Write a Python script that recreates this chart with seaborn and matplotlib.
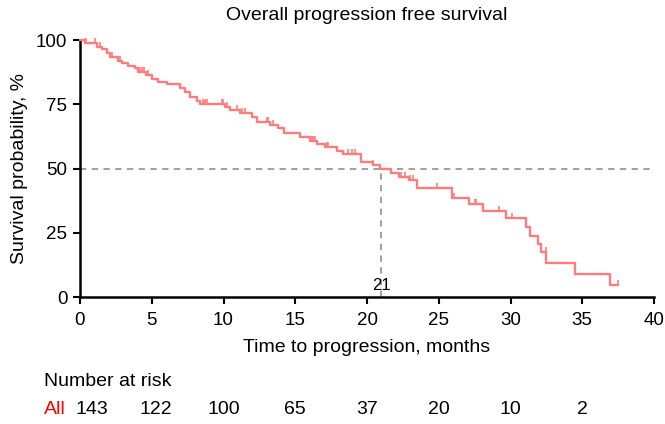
import numpy as np
import matplotlib
matplotlib.use('Agg')
import matplotlib.pyplot as plt
import matplotlib.transforms as mtransforms
import seaborn as sns

# step changes of the KM curve (months, survival %)
event_times = [0.35, 1.16, 1.5, 1.9, 2.1, 2.67, 2.9, 3.37, 3.83, 4.06, 4.6, 5.0, 5.46, 6.04,
               6.97, 7.3, 7.67, 8.13, 8.36, 10.1, 10.45, 11.15, 11.96, 12.3, 13.24, 13.8, 14.2,
               15.3, 16.0, 16.5, 17.1, 17.9, 18.3, 19.6, 20.4, 20.9, 21.7, 22.2, 22.9, 23.5,
               25.9, 27.1, 28.1, 29.7, 31.06, 31.36, 31.9, 32.1, 32.5, 34.5, 36.9]
survival = [98.7, 97.4, 96.5, 94.8, 93.3, 92.0, 90.9, 89.9, 89.0, 87.4, 86.4, 84.7, 83.5, 82.8,
            81.2, 79.9, 77.9, 76.3, 75.1, 74.0, 72.8, 71.5, 69.9, 68.2, 66.9, 65.6, 63.7,
            62.1, 60.8, 59.5, 58.2, 56.9, 55.6, 52.7, 51.4, 49.7, 48.1, 46.8, 45.5, 42.6,
            38.4, 36.2, 33.5, 30.6, 27.1, 23.7, 20.5, 17.6, 13.1, 8.8, 4.5]
last_followup = 37.5
censor_times = [0.45, 1.05, 1.4, 2.2, 2.8, 4.2, 4.3, 4.45, 4.76, 8.6, 8.71, 8.87, 9.87, 9.99,
                10.22, 10.92, 11.3, 11.5, 13.0, 13.1, 13.45, 16.15, 16.26, 16.38, 17.19, 17.3,
                18.7, 18.93, 19.16, 20.44, 22.4, 22.65, 23.0, 23.2, 24.86, 26.06, 27.5, 27.6,
                29.2, 30.1, 32.47, 37.5]
median_time = 21
risk_times = [0, 5, 10, 15, 20, 25, 30, 35]
at_risk = [143, 122, 100, 65, 37, 20, 10, 2]

curve_color = '#FF7C7C'
fs = 14

sns.set_style('ticks')
plt.rcParams['font.family'] = ['Liberation Sans', 'DejaVu Sans']
plt.rcParams.update({'text.color': 'black', 'axes.labelcolor': 'black',
                     'xtick.color': 'black', 'ytick.color': 'black',
                     'axes.edgecolor': 'black'})

fig = plt.figure(figsize=(6.65, 4.24), dpi=100)
ax = fig.add_axes([0.1203, 0.2995, 0.8632, 0.6061])

xs = np.array([0] + event_times + [last_followup])
ys = np.array([100] + survival + [survival[-1]])
sns.lineplot(x=xs, y=ys, ax=ax, drawstyle='steps-post', color=curve_color, lw=1.7,
             sort=False, estimator=None, clip_on=False, zorder=3)

# censor ticks pointing upward
idx = np.searchsorted(xs, censor_times, side='right') - 1
cy = ys[idx]
ax.plot(censor_times, cy, linestyle='none', marker=[(0, 0), (0, 1)], markersize=7,
        markeredgewidth=1.2, color=curve_color, clip_on=False, zorder=3)

# median lines
ax.plot([0, 40], [50, 50], ls=(0, (3.5, 3)), color='#999999', lw=1.3, zorder=2)
ax.plot([median_time, median_time], [0, 50], ls=(0, (3.5, 3)), color='#999999', lw=1.3, zorder=2)
ax.text(median_time, 1.5, str(median_time), ha='center', va='bottom', fontsize=12)

ax.set_xlim(0, 40)
ax.set_ylim(0, 100)
ax.set_xticks(range(0, 41, 5))
ax.set_yticks([0, 25, 50, 75, 100])
ax.tick_params(direction='out', length=5, width=1.5, labelsize=13.5)
ax.tick_params(axis='x', pad=6)
ax.tick_params(axis='y', pad=4)
for s in ['left', 'bottom']:
    ax.spines[s].set_linewidth(1.8)
sns.despine(ax=ax)

ax.set_xlabel('Time to progression, months', fontsize=fs, labelpad=7)
ax.set_ylabel('Survival probability, %', fontsize=fs, labelpad=6)
fig.text(0.552, 0.964, 'Overall progression free survival', ha='center', va='center', fontsize=fs)

# number at risk table
fig.text(0.066, 0.101, 'Number at risk', ha='left', va='center', fontsize=fs)
fig.text(0.066, 0.035, 'All', ha='left', va='center', fontsize=fs, color='red')
trans = mtransforms.blended_transform_factory(ax.transData, fig.transFigure)
for t, n in zip(risk_times, at_risk):
    xpos = t + 0.8 if t == 0 else t + 0.3 if t == 5 else t
    ax.text(xpos, 0.035, str(n), transform=trans, ha='center', va='center', fontsize=fs)

fig.savefig('out.png', dpi=100)
